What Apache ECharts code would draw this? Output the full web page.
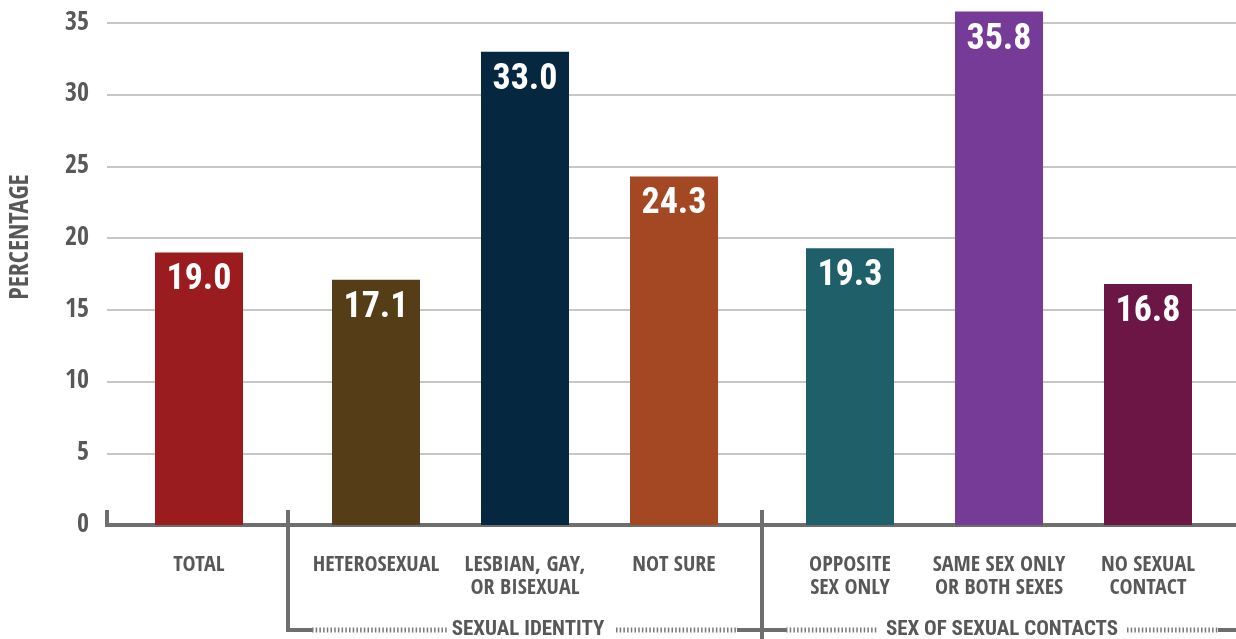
<!DOCTYPE html>
<html>
<head>
<meta charset="utf-8">
<script src="https://cdn.jsdelivr.net/npm/echarts@6/dist/echarts.min.js"></script>
<style>
html,body{margin:0;padding:0;background:#fff;}
#chart{width:1236px;height:639px;}
</style>
</head>
<body>
<div id="chart"></div>
<script>
const categories = ['TOTAL', 'HETEROSEXUAL', 'LESBIAN, GAY,\nOR BISEXUAL', 'NOT SURE', 'OPPOSITE\nSEX ONLY', 'SAME SEX ONLY\nOR BOTH SEXES', 'NO SEXUAL\nCONTACT'];
const values = [19.0, 17.1, 33.0, 24.3, 19.3, 35.8, 16.8];
const barColors = ['#9a1c1f', '#553e17', '#052840', '#a34822', '#1f5f6a', '#763a97', '#6c1646'];
const groupSizes = [1, 3, 3];
const groupNames = ['', 'SEXUAL IDENTITY', 'SEX OF SEXUAL CONTACTS'];
const yMin = 0, yMax = 35, yInterval = 5;
const yAxisName = 'PERCENTAGE';

const FONT_A = '"Open Sans Condensed", "Roboto Condensed", sans-serif';
const FONT_B = '"Roboto Condensed", "Open Sans Condensed", sans-serif';
const GRAY = '#6e6e6e';
const TEXT = '#585858';

const gridTop = 23, gridBottom = 114, pitch = 149;
const groupFirstCenters = [199, 376, 850];

const chart = echarts.init(document.getElementById('chart'));

const grids = [{ left: 107, right: 0, top: gridTop, bottom: gridBottom }];
const xAxes = [{
  gridIndex: 0, type: 'category', data: [''],
  axisLine: { show: true, lineStyle: { color: GRAY, width: 4 } },
  axisTick: { show: false }, axisLabel: { show: false }
}];
const yAxes = [{
  gridIndex: 0, type: 'value', min: yMin, max: yMax, interval: yInterval,
  axisLine: { show: false }, axisTick: { show: false },
  axisLabel: { fontFamily: FONT_A, fontWeight: 'bold', fontSize: 26, color: TEXT, margin: 18 },
  splitLine: { lineStyle: { color: '#b4b4b4', width: 1.5 } }
}];
const series = [];
let start = 0;
groupSizes.forEach((n, g) => {
  const gi = g + 1;
  const left = groupFirstCenters[g] - pitch / 2;
  grids.push({ left: left, width: pitch * n, top: gridTop, bottom: gridBottom });
  xAxes.push({
    gridIndex: gi, type: 'category', data: categories.slice(start, start + n),
    axisLine: { show: false }, axisTick: { show: false },
    axisLabel: { fontFamily: FONT_A, fontWeight: 'bold', fontSize: 22, lineHeight: 23, color: TEXT, margin: 29, interval: 0, align: 'center' }
  });
  yAxes.push({ gridIndex: gi, type: 'value', min: yMin, max: yMax, interval: yInterval, show: false, splitLine: { show: false } });
  series.push({
    type: 'bar', xAxisIndex: gi, yAxisIndex: gi, barWidth: 88, clip: false,
    data: values.slice(start, start + n).map((v, i) => ({ value: v, itemStyle: { color: barColors[start + i] } })),
    label: {
      show: true, position: 'insideTop', distance: 10, color: '#fff',
      fontFamily: FONT_B, fontWeight: 'bold', fontSize: 36,
      formatter: p => p.value.toFixed(1)
    }
  });
  start += n;
});

function seg(x1, y1, x2, y2, dotted) {
  return {
    type: 'line', shape: { x1, y1, x2, y2 },
    style: dotted ? { stroke: '#7a7a7a', lineWidth: 5, lineDash: [1.5, 2.2] } : { stroke: GRAY, lineWidth: 4 },
    z: 10
  };
}
const by = 630;
const graphics = [
  { type: 'text', x: 21, y: 237, rotation: Math.PI / 2, style: { text: yAxisName, fontFamily: FONT_A, fontWeight: 'bold', fontSize: 26, fill: TEXT, textAlign: 'center', textVerticalAlign: 'middle' } },
  seg(107, 510, 107, 527),
  seg(288, 510, 288, 632),
  seg(762, 510, 762, 639),
  seg(286, by, 312, by),
  seg(312, by, 447, by, true),
  seg(616, by, 737, by, true),
  seg(737, by, 786, by),
  seg(786, by, 877, by, true),
  seg(1127, by, 1218, by, true),
  seg(1218, by, 1236, by),
  { type: 'text', x: 528, y: by, style: { text: groupNames[1], fontFamily: FONT_B, fontWeight: 'bold', fontSize: 21, fill: TEXT, textAlign: 'center', textVerticalAlign: 'middle' }, z: 10 },
  { type: 'text', x: 1002, y: by, style: { text: groupNames[2], fontFamily: FONT_B, fontWeight: 'bold', fontSize: 21, fill: TEXT, textAlign: 'center', textVerticalAlign: 'middle' }, z: 10 }
];

chart.setOption({
  animation: false,
  grid: grids, xAxis: xAxes, yAxis: yAxes, series: series,
  graphic: graphics
});
</script>
</body>
</html>
